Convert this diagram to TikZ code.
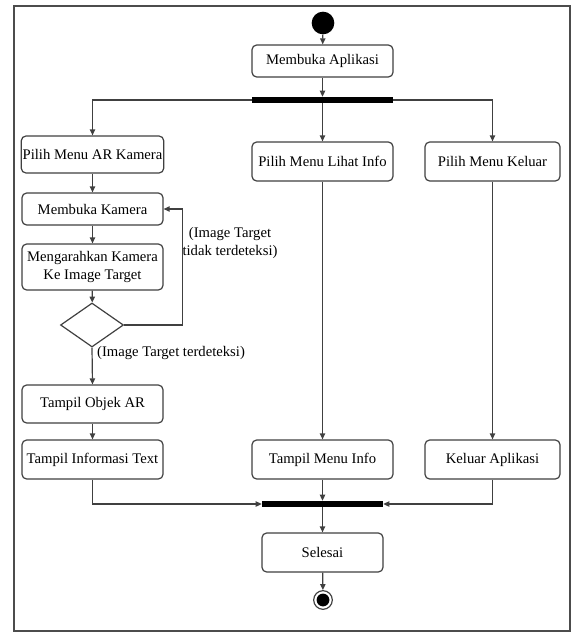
\documentclass[tikz,border=0pt]{standalone}
\usepackage{fontspec}
\setmainfont{Liberation Serif}
\usetikzlibrary{arrows.meta}
\usetikzlibrary{shapes.geometric}

\tikzset{
	act/.style={draw=black!75, line width=0.9pt, rounded corners=3.5pt,
		fill=white, inner sep=1pt, align=center},
	bar/.style={fill=black, inner sep=0pt, minimum height=4.5pt},
	flow/.style={draw=black!75, line width=0.9pt,
		-{Triangle[length=4.5pt,width=4pt]}},
	wire/.style={draw=black!75, line width=0.9pt}
}

\begin{document}
\begin{tikzpicture}[x=0.75pt, y=-0.75pt, font=\fontsize{11}{14}\selectfont]
		% Page size and the outer frame
		\useasboundingbox (0,0) rectangle (571,632);
		\draw[black!70, line width=1.1pt] (14,6) rectangle (570,631);
		% Start and the first action
		\node (Start) [circle, fill=black, inner sep=0pt, minimum size=17pt] at (323,23) {};
		\node (Open App) [act, minimum width=105.75pt, minimum height=24pt] at (322.5,61) {Membuka Aplikasi};
		\node (Fork) [bar, minimum width=105.75pt] at (322.5,100) {};
		% The three menu choices
		\node (Menu AR) [act, minimum width=105.75pt, minimum height=27.75pt] at (92.5,154.5) {Pilih Menu AR Kamera};
		\node (Menu Info) [act, minimum width=105.75pt, minimum height=29.25pt] at (322.5,161.5) {Pilih Menu Lihat Info};
		\node (Menu Exit) [act, minimum width=101.25pt, minimum height=29.25pt] at (492.5,161.5) {Pilih Menu Keluar};
		% Camera branch
		\node (Open Cam) [act, minimum width=105.75pt, minimum height=24pt] at (92.5,209) {Membuka Kamera};
		\node (Aim Cam) [act, minimum width=105.75pt, minimum height=34.5pt] at (92.5,267) {Mengarahkan Kamera\\Ke Image Target};
		\node (Check) [diamond, draw=black!75, line width=0.9pt, inner sep=0pt,
			minimum width=47.25pt, minimum height=33pt] at (92,325) {};
		\node (Show AR) [act, minimum width=105.75pt, minimum height=28.5pt] at (92.5,404) {Tampil Objek AR};
		\node (Show Text) [act, minimum width=105.75pt, minimum height=29.25pt] at (92.5,459.5) {Tampil Informasi Text};
		% Other two branches
		\node (Show Info) [act, minimum width=105.75pt, minimum height=29.25pt] at (322.5,459.5) {Tampil Menu Info};
		\node (Exit App) [act, minimum width=101.25pt, minimum height=29.25pt] at (492.5,459.5) {Keluar Aplikasi};
		% Join, last action and end
		\node (Join) [bar, minimum width=90.75pt] at (322.5,504) {};
		\node (Done) [act, minimum width=90.75pt, minimum height=29.25pt] at (322.5,552.5) {Selesai};
		\node (End) [circle, draw=black!75, line width=0.9pt, inner sep=0pt, minimum size=14pt] at (323,600) {};
		\fill (End) circle (4.8pt);
		% Guard labels
		\node (Not Found) [align=center] at (230,243) {(Image Target\\tidak terdeteksi)};
		\node (Found) at (171,353) {(Image Target terdeteksi)};

		% Connectors
		\draw[flow] (Start) -- (Open App);
		\draw[flow] (Open App) -- (Fork);
		\draw[flow] (Fork.west) -| (Menu AR.north);
		\draw[flow] (Fork.south) -- (Menu Info.north);
		\draw[flow] (Fork.east) -| (Menu Exit.north);
		\draw[flow] (Menu AR) -- (Open Cam);
		\draw[flow] (Open Cam) -- (Aim Cam);
		\draw[flow] (Aim Cam) -- (Check);
		\draw[flow] (Check.east) -- ++(58.5,0) |- (Open Cam.east);
		\draw[flow] (Check.south) -- (Show AR.north);
		\draw[flow] (Show AR) -- (Show Text);
		\draw[flow] (Menu Info) -- (Show Info);
		\draw[flow] (Menu Exit) -- (Exit App);
		\draw[flow] (Show Text.south) |- (Join.west);
		\draw[flow] (Show Info) -- (Join);
		\draw[flow] (Exit App.south) |- (Join.east);
		\draw[flow] (Join) -- (Done);
		\draw[flow] (Done) -- (End);
	\end{tikzpicture}
\end{document}
